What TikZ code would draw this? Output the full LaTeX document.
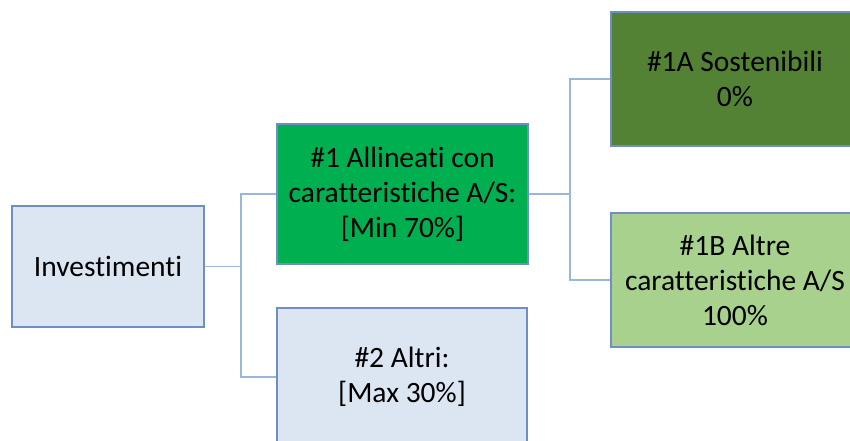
\documentclass[tikz,border=0pt]{standalone}
\usepackage{fontspec}
\setmainfont{Carlito}[Ligatures=NoCommon]
\definecolor{lblue}{HTML}{DCE6F2}
\definecolor{bord}{HTML}{6F8FC4}
\definecolor{conn}{HTML}{9AB6DA}
\definecolor{green1}{HTML}{00B050}
\definecolor{green1a}{HTML}{548235}
\definecolor{green1b}{HTML}{A9D18E}
\begin{document}
\begin{tikzpicture}[x=1pt,y=-1pt,
  box/.style={draw=bord,line width=1.1pt,rectangle,align=center,inner sep=0pt,
    font=\fontsize{29.5}{35}\selectfont,text=black},
  link/.style={draw=conn,line width=1.1pt}]
\useasboundingbox (0,0) rectangle (850,441);
\clip (0,0) rectangle (850,441);
\fill[white] (0,0) rectangle (850,441);
\node[box,fill=lblue,minimum width=192pt,minimum height=121pt] (inv) at (108,266.5) {Investimenti};
\node[box,fill=green1,minimum width=251pt,minimum height=140pt] (n1) at (402.5,194) {\#1 Allineati con\\caratteristiche A/S:\\{[}Min 70\%{]}};
\node[box,fill=lblue,minimum width=250pt,minimum height=138pt] (n2) at (402,377) {\#2 Altri:\\{[}Max 30\%{]}};
\node[box,fill=green1a,minimum width=248pt,minimum height=134pt] (n1a) at (735,79) {\#1A Sostenibili\\0\%};
\node[box,fill=green1b,minimum width=248pt,minimum height=134pt] (n1b) at (735,280) {\#1B Altre\\caratteristiche A/S\\100\%};
\coordinate (j1) at (241,266.5);
\coordinate (j2) at (570,194);
\draw[link] (inv.east) -- (j1) |- (n1.west);
\draw[link] (j1) |- (n2.west);
\draw[link] (n1.east) -- (j2) |- (n1a.west);
\draw[link] (j2) |- (n1b.west);
\end{tikzpicture}
\end{document}
